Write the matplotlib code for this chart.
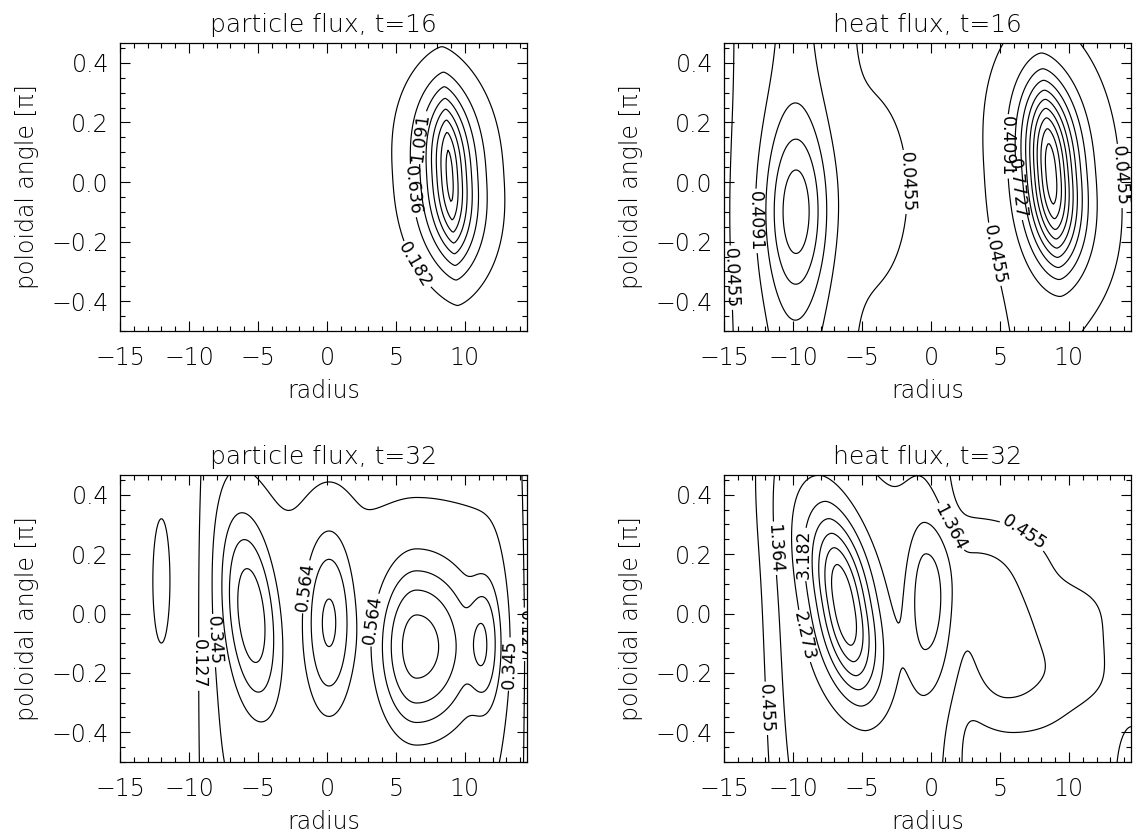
import numpy as np
import matplotlib
matplotlib.use("Agg")
import matplotlib.pyplot as plt
from matplotlib.ticker import MultipleLocator, FuncFormatter

plt.rcParams['font.family'] = ['DejaVu Sans']

# ---------------- data ----------------
titles = ["particle flux, t=16", "heat flux, t=16", "particle flux, t=32", "heat flux, t=32"]
x_label = "radius"
y_label = "poloidal angle [π]"
x_range = [-15.0, 14.5]
y_range = [-0.5, 0.4667]
x_major = [-15, -10, -5, 0, 5, 10]
y_major = [-0.4, -0.2, 0.0, 0.2, 0.4]

levels_pf16 = [0.182, 0.636, 1.091, 1.545, 2.000, 2.455, 2.909, 3.364]
levels_hf16 = [0.0455, 0.4091, 0.7727, 1.1364, 1.5000, 1.8636, 2.2273, 2.5909, 2.9545, 3.3182]
levels_pf32 = [0.127, 0.345, 0.564, 0.782, 1.000, 1.218, 1.436]
levels_hf32 = [0.455, 1.364, 2.273, 3.182, 4.091, 5.000, 5.909, 6.818, 7.727]

# labelled contours: (level, text, position near the label)
labels_pf16 = [(0.636, "0.636", (5.9, -0.03)), (1.091, "1.091", (6.8, 0.15)), (0.182, "0.182", (6.0, -0.29))]
labels_hf16 = [(0.0455, "0.0455", (-13.9, -0.32)), (0.4091, "0.4091", (-12.1, -0.13)),
               (0.0455, "0.0455", (-2.0, 0.0)), (0.0455, "0.0455", (3.8, -0.25)),
               (0.4091, "0.4091", (5.6, 0.12)), (0.7727, "0.7727", (6.4, -0.02)),
               (0.0455, "0.0455", (13.6, 0.02))]
labels_pf32 = [(0.127, "0.127", (-9.0, -0.17)), (0.345, "0.345", (-7.8, -0.09)),
               (0.564, "0.564", (-1.5, 0.09)), (0.564, "0.564", (3.2, -0.02)),
               (0.345, "0.345", (13.1, -0.17)), (0.127, "0.127", (14.1, -0.07))]
labels_hf32 = [(0.455, "0.455", (-12.4, -0.32)), (1.364, "1.364", (-11.3, 0.22)),
               (2.273, "2.273", (-8.6, -0.07)), (3.182, "3.182", (-7.8, 0.2)),
               (1.364, "1.364", (0.5, 0.27)), (0.455, "0.455", (6.3, 0.24))]

# flux structures (lobes):
# amplitude, centre, right/left widths, vertical width, tilt, shape exponents
# particle flux t=16
pf16_amp = [3.55]
pf16_cx = [8.9]
pf16_cy = [0.02]
pf16_sx = [1.1]
pf16_sxl = [1.16]
pf16_sy = [0.213]
pf16_tilt = [1.3]
pf16_px = [1.4]
pf16_py = [2.5]
pf16_e = [1]

# heat flux t=16
hf16_amp = [3.5, 0.10, 0.5, 1.25, 0.15]
hf16_cx = [8.7, 7.8, -9.9, -9.75, -4.5]
hf16_cy = [0.03, -0.3, 0.0, -0.1, -0.03]
hf16_sx = [1.3, 1.8, 2.0, 1.6, 1.8]
hf16_sxl = [1.23, 1.8, 2.0, 1.6, 1.8]
hf16_sy = [0.224, 0.35, 3.0, 0.21, 0.2]
hf16_tilt = [1.7, 0.0, 0.0, 0.0, 0.0]
hf16_px = [1.6, 2, 2, 2, 2]
hf16_py = [2.5, 2, 2, 2, 2]
hf16_e = [1, 1, 1, 1, 1]

# particle flux t=32
pf32_amp = [0.4, 0.73, 0.63, 0.9, 0.45, 0.2]
pf32_cx = [2.5, -5.5, 0.15, 6.5, 11.45, -12.0]
pf32_cy = [-0.15, 0.0, -0.025, -0.11, -0.1, 0.11]
pf32_sx = [11.2, 1.4, 1.3, 3.1, 0.84, 0.65]
pf32_sxl = [11.2, 1.4, 1.3, 2.0, 0.84, 0.65]
pf32_sy = [0.9, 0.24, 0.22, 0.21, 0.16, 0.22]
pf32_tilt = [0.0, 2.0, 0.0, 0.0, 0.0, 0.0]
pf32_px = [16, 2, 2, 2, 2, 2]
pf32_py = [2, 2, 2, 2, 2, 2]
pf32_e = [1, 1.25, 1.25, 1.25, 1.25, 1]

# heat flux t=32
hf32_amp = [1.8, 5.9, 1.9, 1.8, 0.6, 0.6, 0.9]
hf32_cx = [-5.0, -6.3, -0.4, 4.5, 10.5, -9.0, 14.6]
hf32_cy = [-0.2, 0.03, 0.045, -0.04, -0.1, 0.45, -0.56]
hf32_sx = [6.2, 1.4, 1.3, 3.2, 2.0, 2.5, 1.0]
hf32_sxl = [6.2, 1.4, 0.9, 2.4, 2.0, 2.5, 1.0]
hf32_sy = [0.8, 0.22, 0.19, 0.28, 0.16, 0.2, 0.15]
hf32_tilt = [0.8, 3.6, 0.0, 4.0, 0.0, 0.0, 0.0]
hf32_px = [8, 1.8, 2, 2, 2, 2, 2]
hf32_py = [2, 2.4, 2, 4, 4, 2, 2]
hf32_e = [1, 1, 1, 1, 1, 1, 1]


def build(X, Y, amp, cx, cy, sx, sxl, sy, tilt, px, py, ex):
    Z = np.zeros_like(X)
    for a, x0, y0, wr, wl, wy, t, p, q, e in zip(amp, cx, cy, sx, sxl, sy, tilt, px, py, ex):
        dy = Y - y0
        dx = X - x0 + t * dy
        wx = np.where(dx >= 0, wr, wl)
        g = np.abs(dx / wx) ** p + np.abs(dy / wy) ** q
        Z += a * np.exp(-0.5 * g ** e)
    return Z


xg = np.linspace(x_range[0], x_range[1], 300)
yg = np.linspace(y_range[0], y_range[1], 200)
X, Y = np.meshgrid(xg, yg)

panels = [
    (titles[0], build(X, Y, pf16_amp, pf16_cx, pf16_cy, pf16_sx, pf16_sxl, pf16_sy, pf16_tilt, pf16_px, pf16_py, pf16_e), levels_pf16, labels_pf16),
    (titles[1], build(X, Y, hf16_amp, hf16_cx, hf16_cy, hf16_sx, hf16_sxl, hf16_sy, hf16_tilt, hf16_px, hf16_py, hf16_e), levels_hf16, labels_hf16),
    (titles[2], build(X, Y, pf32_amp, pf32_cx, pf32_cy, pf32_sx, pf32_sxl, pf32_sy, pf32_tilt, pf32_px, pf32_py, pf32_e), levels_pf32, labels_pf32),
    (titles[3], build(X, Y, hf32_amp, hf32_cx, hf32_cy, hf32_sx, hf32_sxl, hf32_sy, hf32_tilt, hf32_px, hf32_py, hf32_e), levels_hf32, labels_hf32),
]

fig = plt.figure(figsize=(11.33, 8.36), dpi=100)
W, H = 1133.0, 836.0
boxes = [(120, 43, 527, 331), (724, 43, 1131, 331), (120, 475, 527, 762), (724, 475, 1131, 762)]

fs = 17


def fmt_minus(s):
    return s.replace('-', '\u2212')


xfmt = FuncFormatter(lambda v, p: fmt_minus('%d' % round(v)))
yfmt = FuncFormatter(lambda v, p: '0.0' if abs(v) < 1e-9 else fmt_minus('%.1f' % v))

for (title, Z, lev, labs), (l, t, r, b) in zip(panels, boxes):
    ax = fig.add_axes([l / W, 1 - b / H, (r - l) / W, (b - t) / H])
    lab_levels = sorted(set(lv for lv, _, _ in labs))
    plain = [lv for lv in lev if lv not in lab_levels]
    ax.contour(X, Y, Z, levels=plain, colors='black', linewidths=0.85)
    for lv in lab_levels:
        cs1 = ax.contour(X, Y, Z, levels=[lv], colors='black', linewidths=0.85)
        pts = [pos for l2, _, pos in labs if l2 == lv]
        txt = [s for l2, s, _ in labs if l2 == lv][0]
        if len(cs1.allsegs[0]) == 0:
            continue
        ax.clabel(cs1, inline=True, inline_spacing=2, fmt={lv: txt},
                  fontsize=12.5, manual=pts)
    ax.set_xlim(x_range)
    ax.set_ylim(y_range)
    ax.set_xticks(x_major)
    ax.set_yticks(y_major)
    ax.xaxis.set_major_formatter(xfmt)
    ax.yaxis.set_major_formatter(yfmt)
    ax.xaxis.set_minor_locator(MultipleLocator(1))
    ax.yaxis.set_minor_locator(MultipleLocator(0.05))
    ax.tick_params(which='both', direction='in', top=True, right=True, width=0.8)
    ax.tick_params(axis='x', which='major', length=7, pad=11, labelsize=fs)
    ax.tick_params(axis='y', which='major', length=7, pad=8, labelsize=fs)
    ax.tick_params(which='minor', length=3.5)
    for lab in ax.get_xticklabels() + ax.get_yticklabels():
        lab.set_fontweight('light')
    for s in ax.spines.values():
        s.set_linewidth(0.9)
    ax.set_title(title, fontsize=fs + 1, pad=8, fontweight='light')
    ax.set_xlabel(x_label, fontsize=fs, fontweight='light', labelpad=6)
    ax.set_ylabel(y_label, fontsize=fs, fontweight='light', labelpad=9)

fig.savefig('out.png', dpi=100)
